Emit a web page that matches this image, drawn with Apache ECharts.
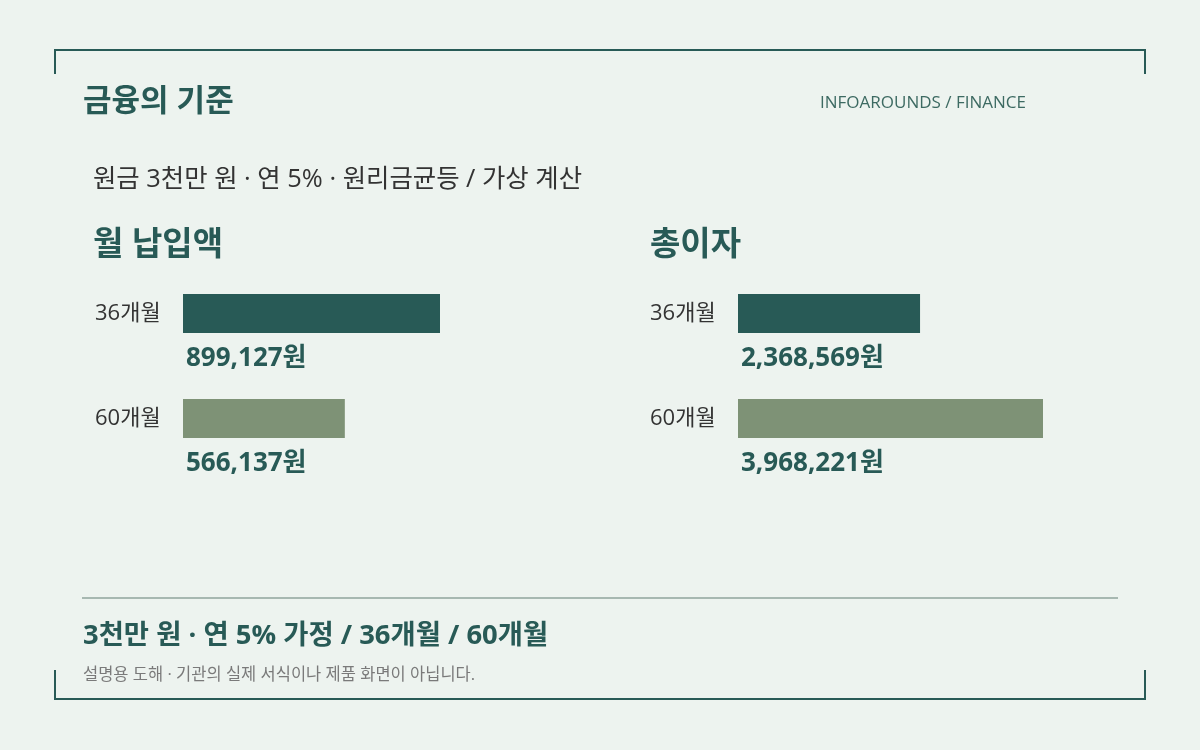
<!DOCTYPE html>
<html><head><meta charset="utf-8">
<script src="https://cdn.jsdelivr.net/npm/echarts@6/dist/echarts.min.js"></script>
<style>html,body{margin:0;padding:0;background:#edf3ef}#c{width:1200px;height:750px}</style>
</head><body><div id="c"></div>
<script>
const categories = ['36개월', '60개월'];
const monthlyPayment = [899127, 566137];
const totalInterest = [2368569, 3968221];
const panelTitles = ['월 납입액', '총이자'];

const DARK = '#285a56', LIGHT = '#7e9276', FONT = '"Open Sans","Noto Sans CJK KR",sans-serif';
const barColors = [DARK, LIGHT];
const fmt = v => v.toLocaleString('en-US') + '원';

const chart = echarts.init(document.getElementById('c'), null, {renderer: 'canvas'});
function grid(left, width){ return {left: left, width: width, top: 261, height: 210, containLabel: false}; }
function xAx(i, data){ return {gridIndex: i, type: 'value', min: 0, max: Math.max(...data), show: false}; }
function yAx(i){ return {gridIndex: i, type: 'category', data: categories, inverse: true,
  axisLine: {show: false}, axisTick: {show: false}, splitLine: {show: false},
  axisLabel: {align: 'left', margin: 88, color: '#333', fontSize: 22, fontFamily: FONT}}; }
function ser(i, data){ return {type: 'bar', xAxisIndex: i, yAxisIndex: i, data: data, barWidth: 39,
  itemStyle: {color: p => barColors[p.dataIndex]}, silent: true,
  label: {show: true, position: [3, 65], align: 'left', verticalAlign: 'middle',
    formatter: p => fmt(p.value), color: DARK, fontSize: 26, fontWeight: 'bold', fontFamily: FONT}}; }
function t(text, pos, size, weight, color){
  return Object.assign({text: text, padding: 0, textStyle: {fontSize: size, fontWeight: weight, color: color, fontFamily: FONT}}, pos);
}

chart.setOption({
  backgroundColor: '#edf3ef',
  animation: false,
  textStyle: {fontFamily: FONT},
  title: [
    t('금융의 기준', {left: 83, top: 87}, 31, 'bold', DARK),
    t('INFOAROUNDS / FINANCE', {right: 174, top: 95}, 17, 'normal', '#3d6a62'),
    t('원금 3천만 원 · 연 5% · 원리금균등 / 가상 계산', {left: 93, top: 167}, 25.4, 'normal', '#333'),
    t(panelTitles[0], {left: 93, top: 229}, 33, 'bold', DARK),
    t(panelTitles[1], {left: 650, top: 229}, 33, 'bold', DARK),
    t('3천만 원 · 연 5% 가정 / 36개월 / 60개월', {left: 83, top: 623}, 27.4, 'bold', DARK),
    t('설명용 도해 · 기관의 실제 서식이나 제품 화면이 아닙니다.', {left: 83, top: 667}, 16.5, 'normal', '#7a7a7a')
  ],
  grid: [grid(183, 257), grid(738, 305)],
  xAxis: [xAx(0, monthlyPayment), xAx(1, totalInterest)],
  yAxis: [yAx(0), yAx(1)],
  series: [ser(0, monthlyPayment), ser(1, totalInterest)],
  graphic: [
    {type: 'polyline', shape: {points: [[55, 74], [55, 50], [1145, 50], [1145, 74]]}, style: {stroke: DARK, lineWidth: 2, fill: null}},
    {type: 'polyline', shape: {points: [[55, 670], [55, 699], [1145, 699], [1145, 670]]}, style: {stroke: DARK, lineWidth: 2, fill: null}},
    {type: 'line', shape: {x1: 82, y1: 598, x2: 1118, y2: 598}, style: {stroke: '#8fa59c', lineWidth: 1.5}}
  ]
});
</script></body></html>
